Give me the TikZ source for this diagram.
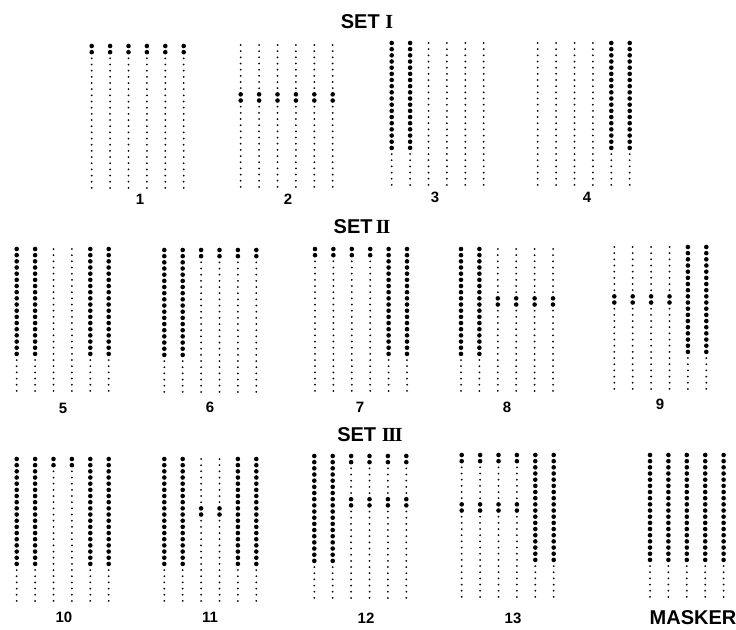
\documentclass[tikz,border=0pt]{standalone}
\usepackage{fontspec}
\setmainfont{Liberation Sans}
\newfontfamily\romfont{Liberation Serif}
\usepackage{tikz}
\usetikzlibrary{positioning}
\tikzset{
  settitle/.style={font=\fontsize{20}{20}\selectfont\bfseries, inner sep=0pt},
  numlbl/.style={font=\fontsize{15}{15}\selectfont\bfseries, inner sep=0pt},
}
% roman numerals with touching serifs
\newcommand{\romnum}[1]{{\romfont\bfseries #1}}
\newcommand{\rII}{\romnum{I\kern-.06em I}}
\newcommand{\rIII}{\romnum{I\kern-.06em I\kern-.06em I}}
% one pattern: top y, left x, then nbig/midrow for each column
\newcommand{\rsmall}{1.0}
\newcommand{\rbig}{2.3}
\newcommand{\dotpanel}[3]{%
  \foreach \nb/\mr [count=\c from 0] in {#3}{
    \foreach \r in {0,...,23}{
      \pgfmathtruncatemacro{\isbig}{(\r<\nb)||(\r==\mr)||(\r==\mr+1)}
      \ifnum\isbig=1
        \fill (#1+\c*18.4, #2+\r*6.17) circle (\rbig);
      \else
        \fill (#1+\c*18.4, #2+\r*6.17) circle (\rsmall);
      \fi
    }
  }}

\begin{document}
\begin{tikzpicture}[x=1pt, y=-1pt]
  \useasboundingbox (0,0) rectangle (736,629);

  % SET I
  \node[settitle] (set1) at (367,22) {SET \romnum{I}};
  \dotpanel{91.7}{46}{2/-9, 2/-9, 2/-9, 2/-9, 2/-9, 2/-9}
  \dotpanel{240.7}{45}{0/8, 0/8, 0/8, 0/8, 0/8, 0/8}
  \dotpanel{391.7}{43}{18/-9, 18/-9, 0/-9, 0/-9, 0/-9, 0/-9}
  \dotpanel{537.7}{43}{0/-9, 0/-9, 0/-9, 0/-9, 18/-9, 18/-9}
  \node[numlbl] (p1) at (140,199) {1};
  \node[numlbl] (p2) at (288,199) {2};
  \node[numlbl] (p3) at (435,197) {3};
  \node[numlbl] (p4) at (587,197) {4};

  % SET II
  \node[settitle] (set2) at (362,227) {SET\,\rII};
  \dotpanel{16.7}{249}{18/-9, 18/-9, 0/-9, 0/-9, 18/-9, 18/-9}
  \dotpanel{164.3}{250}{18/-9, 18/-9, 2/-9, 2/-9, 2/-9, 2/-9}
  \dotpanel{315}{249}{2/-9, 2/-9, 2/-9, 2/-9, 18/-9, 18/-9}
  \dotpanel{461}{249}{18/-9, 18/-9, 0/8, 0/8, 0/8, 0/8}
  \dotpanel{614.3}{247}{0/8, 0/8, 0/8, 0/8, 18/-9, 18/-9}
  \node[numlbl] (p5) at (63,408) {5};
  \node[numlbl] (p6) at (210,407) {6};
  \node[numlbl] (p7) at (360,407) {7};
  \node[numlbl] (p8) at (507,407) {8};
  \node[numlbl] (p9) at (660,404) {9};

  % SET III
  \node[settitle] (set3) at (370,435) {SET \rIII};
  \dotpanel{16.7}{459}{18/-9, 18/-9, 2/-9, 2/-9, 18/-9, 18/-9}
  \dotpanel{164.3}{459}{18/-9, 18/-9, 0/8, 0/8, 18/-9, 18/-9}
  \dotpanel{314.3}{456}{18/-9, 18/-9, 2/7, 2/7, 2/7, 2/7}
  \dotpanel{461.7}{455}{2/8, 2/8, 2/8, 2/8, 18/-9, 18/-9}
  \dotpanel{650}{455}{18/-9, 18/-9, 18/-9, 18/-9, 18/-9}
  \node[numlbl] (p10) at (64,617) {10};
  \node[numlbl] (p11) at (210,617) {11};
  \node[numlbl] (p12) at (366,618) {12};
  \node[numlbl] (p13) at (513,618) {13};
  \node[settitle] (mask) at (693,618) {MASKER};
\end{tikzpicture}
\end{document}
